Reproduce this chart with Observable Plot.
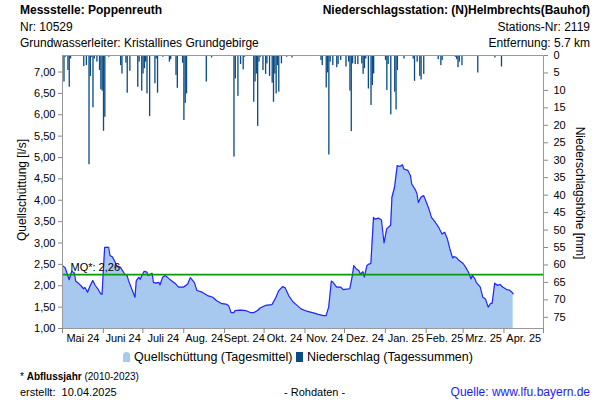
<!DOCTYPE html>
<html><head><meta charset="utf-8">
<script src="https://cdn.jsdelivr.net/npm/d3@7"></script>
<script src="https://cdn.jsdelivr.net/npm/@observablehq/plot@0.6"></script>
<style>
body{margin:0;background:#fff;font-family:"Liberation Sans",Arial,sans-serif;}
#wrap{position:relative;width:600px;height:400px;overflow:hidden;}
.t{position:absolute;white-space:nowrap;color:#000;line-height:14px;font-size:12px;}
.b{font-weight:bold;}
.r{text-align:right;}
#chart{position:absolute;left:0;top:0;}
.sym{display:inline-block;width:7px;height:10px;vertical-align:-1px;margin-right:4px;}
</style></head><body><div id="wrap">
<div id="chart"></div>
<div class="t b" style="left:20px;top:3px;">Messstelle: Poppenreuth</div>
<div class="t" style="left:20px;top:20px;">Nr: 10529</div>
<div class="t" style="left:20px;top:36px;">Grundwasserleiter: Kristallines Grundgebirge</div>
<div class="t b r" style="right:10px;top:3px;">Niederschlagsstation: (N)Helmbrechts(Bauhof)</div>
<div class="t r" style="right:10px;top:20px;">Stations-Nr: 2119</div>
<div class="t r" style="right:10px;top:36px;">Entfernung: 5.7 km</div>
<div class="t" style="left:22px;top:190px;transform:translate(-50%,-50%) rotate(-90deg);">Quellschüttung [l/s]</div>
<div class="t" style="left:580px;top:193px;transform:translate(-50%,-50%) rotate(90deg);">Niederschlagshöhe [mm]</div>
<div class="t" style="left:123px;top:350px;font-size:12.5px;"><span class="sym" style="background:#a7c9ef;border-radius:4px 4px 0 0;"></span>Quellschüttung (Tagesmittel) <span class="sym" style="background:#0b4b86;"></span>Niederschlag (Tagessummen)</div>
<div class="t" style="left:20px;top:370px;font-size:10px;">* <b style="font-weight:600">Abflussjahr</b> (2010-2023)</div>
<div class="t" style="left:20px;top:385px;font-size:11px;">erstellt:&nbsp; 10.04.2025</div>
<div class="t" style="left:284px;top:385px;font-size:11px;">- Rohdaten -</div>
<div class="t r" style="right:10px;top:385px;font-size:12px;color:#1a1aff;">Quelle: www.lfu.bayern.de</div>
</div>
<script>
// Quellschüttung (Tagesmittel) [l/s]
const qDates = ["2024-05-01","2024-05-03","2024-05-05","2024-05-06","2024-05-08","2024-05-10","2024-05-11","2024-05-13","2024-05-15","2024-05-17","2024-05-18","2024-05-20","2024-05-22","2024-05-24","2024-05-26","2024-05-28","2024-05-30","2024-05-31","2024-06-02","2024-06-05","2024-06-06","2024-06-08","2024-06-10","2024-06-11","2024-06-14","2024-06-17","2024-06-19","2024-06-20","2024-06-23","2024-06-25","2024-06-26","2024-06-28","2024-06-29","2024-06-30","2024-07-02","2024-07-04","2024-07-05","2024-07-08","2024-07-09","2024-07-11","2024-07-13","2024-07-14","2024-07-16","2024-07-18","2024-07-21","2024-07-23","2024-07-26","2024-07-28","2024-08-01","2024-08-04","2024-08-06","2024-08-09","2024-08-11","2024-08-15","2024-08-19","2024-08-23","2024-08-26","2024-08-30","2024-09-02","2024-09-04","2024-09-06","2024-09-08","2024-09-09","2024-09-13","2024-09-17","2024-09-21","2024-09-23","2024-09-26","2024-09-28","2024-10-02","2024-10-07","2024-10-10","2024-10-12","2024-10-15","2024-10-17","2024-10-20","2024-10-23","2024-10-26","2024-10-29","2024-11-01","2024-11-03","2024-11-08","2024-11-11","2024-11-15","2024-11-17","2024-11-19","2024-11-21","2024-11-22","2024-11-25","2024-11-28","2024-11-30","2024-12-05","2024-12-07","2024-12-08","2024-12-10","2024-12-12","2024-12-13","2024-12-15","2024-12-16","2024-12-18","2024-12-19","2024-12-21","2024-12-23","2024-12-24","2024-12-27","2024-12-29","2024-12-31","2025-01-02","2025-01-04","2025-01-05","2025-01-06","2025-01-08","2025-01-10","2025-01-12","2025-01-14","2025-01-15","2025-01-18","2025-01-20","2025-01-21","2025-01-24","2025-01-25","2025-01-26","2025-01-28","2025-01-30","2025-01-31","2025-02-03","2025-02-05","2025-02-08","2025-02-10","2025-02-13","2025-02-15","2025-02-17","2025-02-19","2025-02-21","2025-02-22","2025-02-24","2025-02-26","2025-03-01","2025-03-03","2025-03-05","2025-03-07","2025-03-08","2025-03-10","2025-03-11","2025-03-14","2025-03-16","2025-03-18","2025-03-20","2025-03-22","2025-03-23","2025-03-25","2025-03-27","2025-03-29","2025-03-31","2025-04-03","2025-04-05","2025-04-07","2025-04-08"];
const qValues = [2.47,2.42,2.24,2.14,2.34,2.30,2.11,2.06,2.00,1.93,1.96,1.85,2.00,2.12,2.00,1.92,1.81,1.80,2.90,2.90,2.71,2.67,2.55,2.47,2.43,2.28,2.24,2.13,1.89,1.73,2.12,2.20,2.15,2.22,2.34,2.32,2.24,2.29,2.08,2.06,2.08,2.02,2.20,2.24,2.16,2.11,2.04,1.97,1.97,2.04,2.19,2.08,1.89,1.85,1.77,1.73,1.65,1.58,1.57,1.54,1.37,1.37,1.42,1.43,1.42,1.37,1.37,1.42,1.48,1.54,1.56,1.73,1.88,1.98,1.95,1.75,1.62,1.54,1.46,1.42,1.40,1.36,1.33,1.30,1.30,1.50,2.11,2.09,1.97,1.97,1.91,1.93,2.24,2.47,2.39,2.35,2.27,2.33,2.20,2.47,2.50,2.52,3.60,3.56,3.58,3.54,3.00,3.33,3.39,3.41,4.07,4.31,4.81,4.79,4.83,4.73,4.70,4.58,4.38,4.23,4.15,3.95,4.07,4.11,4.04,3.80,3.60,3.48,3.39,3.21,3.25,3.10,2.86,2.65,2.68,2.66,2.59,2.52,2.43,2.32,2.16,2.24,2.16,2.08,1.97,1.73,1.69,1.50,1.59,1.59,2.06,2.01,2.03,1.97,1.91,1.90,1.85,1.81];
// Niederschlag (Tagessummen) [mm]
const pDates = ["2024-05-02","2024-05-03","2024-05-05","2024-05-06","2024-05-07","2024-05-17","2024-05-19","2024-05-21","2024-05-22","2024-05-23","2024-05-24","2024-05-25","2024-05-27","2024-05-29","2024-05-30","2024-05-31","2024-06-01","2024-06-02","2024-06-05","2024-06-14","2024-06-15","2024-06-18","2024-06-19","2024-06-21","2024-06-27","2024-06-28","2024-06-30","2024-07-01","2024-07-02","2024-07-03","2024-07-04","2024-07-06","2024-07-10","2024-07-11","2024-07-12","2024-07-16","2024-07-21","2024-07-22","2024-07-26","2024-07-27","2024-07-31","2024-08-01","2024-08-02","2024-08-03","2024-08-18","2024-08-22","2024-08-27","2024-09-06","2024-09-08","2024-09-09","2024-09-11","2024-09-13","2024-09-15","2024-09-16","2024-09-23","2024-09-24","2024-09-25","2024-09-26","2024-09-27","2024-09-28","2024-09-30","2024-10-02","2024-10-03","2024-10-05","2024-10-07","2024-10-08","2024-10-09","2024-10-10","2024-10-11","2024-10-12","2024-10-14","2024-10-18","2024-10-22","2024-10-30","2024-11-02","2024-11-05","2024-11-13","2024-11-14","2024-11-17","2024-11-18","2024-11-19","2024-11-20","2024-11-22","2024-11-25","2024-11-26","2024-11-28","2024-12-02","2024-12-04","2024-12-05","2024-12-06","2024-12-07","2024-12-09","2024-12-11","2024-12-14","2024-12-15","2024-12-16","2024-12-17","2024-12-19","2024-12-21","2024-12-22","2024-12-23","2025-01-01","2025-01-02","2025-01-03","2025-01-05","2025-01-08","2025-01-09","2025-01-10","2025-01-15","2025-01-22","2025-01-23","2025-01-25","2025-01-27","2025-01-28","2025-01-30","2025-01-31","2025-02-10","2025-02-12","2025-02-13","2025-02-23","2025-02-24","2025-02-25","2025-02-26","2025-02-28","2025-03-12","2025-03-25","2025-03-30"];
const pValues = [7.6,0.5,4.3,9.1,1.0,3.2,2.9,31.3,6.0,0.5,15.0,1.0,1.9,4.3,9.8,10.2,21.7,17.7,0.5,2.9,5.3,2.2,10.8,4.5,9.1,1.9,10.2,5.3,3.8,1.9,11.0,17.5,8.1,1.0,10.8,0.5,1.9,1.2,5.7,9.4,2.2,18.6,13.7,11.0,7.6,0.7,0.3,0.3,29.1,6.7,11.7,2.6,4.1,0.5,13.4,7.6,5.3,20.3,1.9,0.5,4.3,5.4,2.4,6.0,7.9,13.4,5.3,11.0,2.9,10.5,2.4,0.5,0.7,0.3,0.3,0.3,1.4,2.9,9.3,5.0,28.5,1.9,2.9,3.5,2.6,1.4,3.3,1.9,10.2,21.8,2.4,2.6,2.6,2.4,5.4,3.8,1.0,9.6,14.3,8.6,5.3,1.4,10.0,2.6,17.0,10.5,15.6,4.3,1.0,1.0,7.4,1.9,6.0,7.0,5.4,0.3,1.2,2.9,1.4,0.5,1.2,3.5,1.9,2.9,5.0,0.7,3.3];
const monthLabels = ["Mai 24","Juni 24","Juli 24","Aug. 24","Sept. 24","Okt. 24","Nov. 24","Dez. 24","Jan. 25","Feb. 25","Mrz. 25","Apr. 25"];
const leftTicks = [1,1.5,2,2.5,3,3.5,4,4.5,5,5.5,6,6.5,7];
const rightTicks = [0,5,10,15,20,25,30,35,40,45,50,55,60,65,70,75];
const MQ = 2.26;
const xStart = "2024-05-01", xEnd = "2025-05-01";

const yTop = 7.386, mmMax = 78.2;
const mm2y = mm => yTop - mm * (yTop - 1) / mmMax;
const y2mm = v => (yTop - v) * mmMax / (yTop - 1);

const q = qDates.map((d, i) => ({date: new Date(d), v: qValues[i]}));
const p = pDates.map((d, i) => ({date: new Date(d), mm: pValues[i]}));
const t0 = new Date(xStart), t1 = new Date(xEnd);
const monthStarts = d3.utcMonth.range(t0, d3.utcDay.offset(t1, 1));
const monthMids = monthStarts.slice(0, -1).map((d, i) => new Date((+d + +monthStarts[i + 1]) / 2));

const chart = Plot.plot({
  width: 600, height: 345,
  marginTop: 55, marginBottom: 17, marginLeft: 62, marginRight: 57,
  style: {fontFamily: '"Liberation Sans", Arial, sans-serif', fontSize: "11px", color: "#000", background: "transparent", overflow: "visible"},
  x: {type: "utc", domain: [t0, t1]},
  y: {domain: [1, yTop]},
  marks: [
    Plot.areaY(q, {x: "date", y1: 1, y2: "v", fill: "#a7c9ef"}),
    Plot.rect(p, {x1: "date", x2: d => d3.utcDay.offset(d.date, 1), y1: yTop, y2: d => mm2y(d.mm), fill: "#0b4b86"}),
    Plot.lineY(q, {x: "date", y: "v", stroke: "#2323ff", strokeWidth: 1.2}),
    Plot.ruleY([MQ], {stroke: "#0b9a0b", strokeWidth: 1.6}),
    Plot.text([MQ], {y: d => d, text: () => "MQ*: " + MQ.toFixed(2).replace(".", ","), frameAnchor: "left", textAnchor: "start", dx: 8, dy: -7, fill: "#000", fontSize: 11}),
    Plot.frame({stroke: "#999"}),
    Plot.axisY(leftTicks, {anchor: "left", tickSize: 4, tickPadding: 3, stroke: "#888", fill: "#000", tickFormat: d => d.toFixed(2).replace(".", ","), label: null}),
    Plot.axisY(rightTicks.map(mm2y), {anchor: "right", tickSize: 4, tickPadding: 6, stroke: "#888", fill: "#000", tickFormat: v => String(Math.round(y2mm(v))), textAnchor: "start", label: null}),
    Plot.axisX(monthStarts, {anchor: "bottom", tickSize: 5, stroke: "#888", tickFormat: () => "", label: null}),
    Plot.axisX(monthMids, {anchor: "bottom", tickSize: 0, tickPadding: 6, fill: "#000", tickFormat: d => monthLabels[d3.utcMonth.count(t0, d)], label: null})
  ]
});
document.getElementById("chart").appendChild(chart);
</script>
</body></html>
